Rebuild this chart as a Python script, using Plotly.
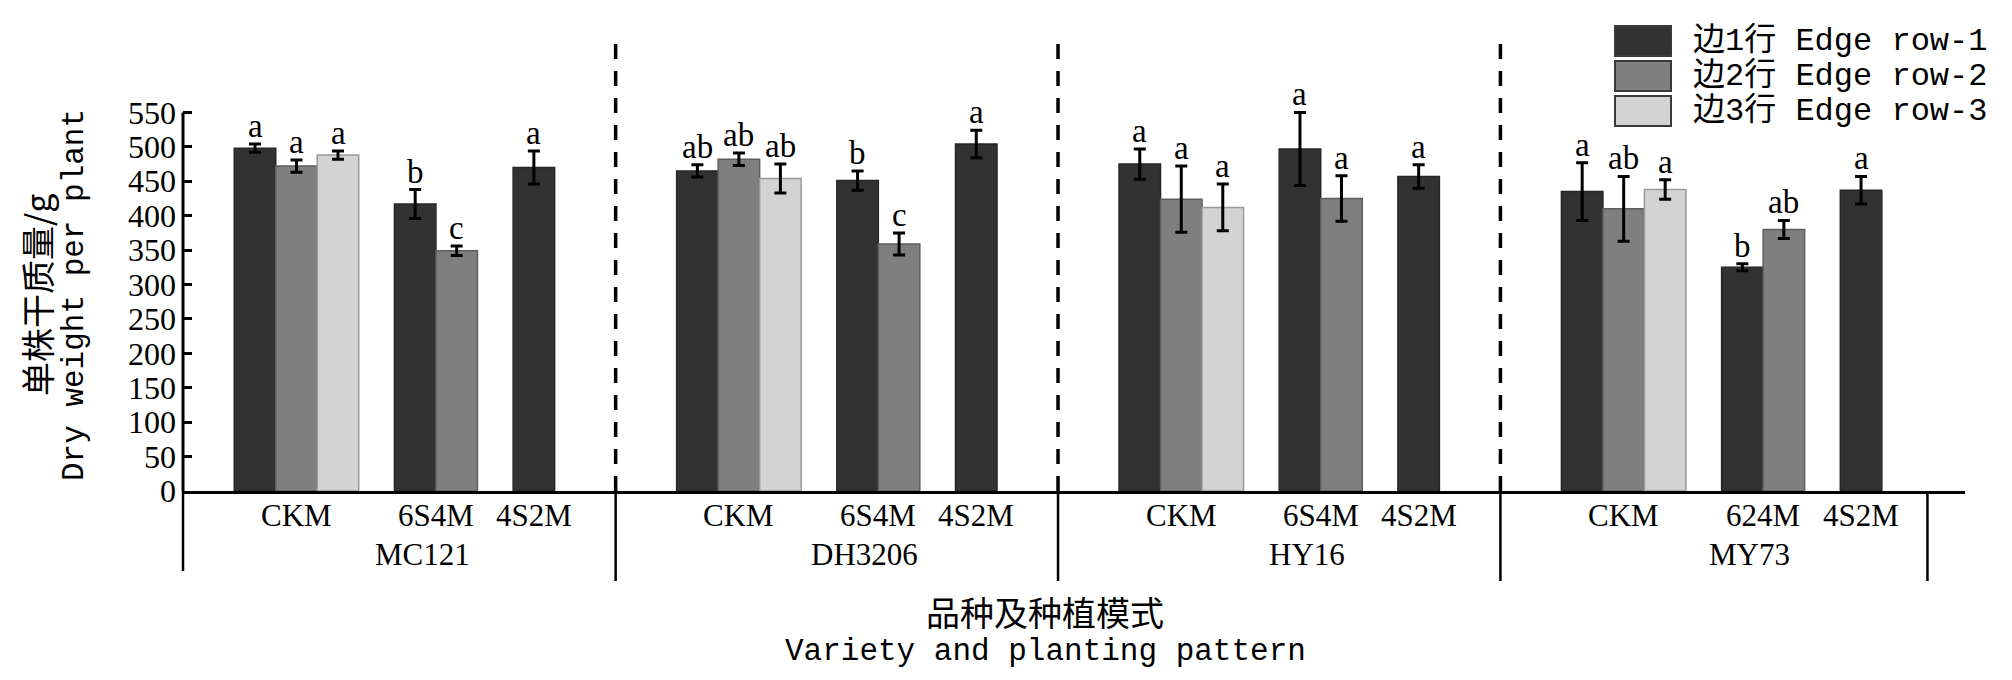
import plotly.graph_objects as go

# Varieties and planting patterns (x axis)
varieties = ["MC121", "DH3206", "HY16", "MY73"]
patterns = [
    ["CKM", "6S4M", "4S2M"],
    ["CKM", "6S4M", "4S2M"],
    ["CKM", "6S4M", "4S2M"],
    ["CKM", "624M", "4S2M"],
]
rows_per_pattern = [3, 2, 1]  # CKM has edge rows 1-3, second pattern rows 1-2, last pattern row 1

# Dry weight per plant (g), per variety: one value per pattern that has the row
row1_mean = [[498, 417, 470], [465, 451, 504], [475, 497, 457], [435, 325, 437]]
row1_err = [[6, 21, 24], [9, 14, 20], [22, 53, 17], [42, 5, 20]]
row1_sig = [["a", "b", "a"], ["ab", "b", "a"], ["a", "a", "a"], ["a", "b", "a"]]

row2_mean = [[472, 349], [482, 359], [424, 425], [410, 380]]
row2_err = [[9, 7], [9, 16], [48, 33], [47, 13]]
row2_sig = [["a", "c"], ["ab", "c"], ["a", "a"], ["ab", "ab"]]

row3_mean = [[488], [454], [412], [438]]
row3_err = [[6], [21], [34], [14]]
row3_sig = [["a"], ["ab"], ["a"], ["a"]]

series_names = ["边1行 Edge row-1", "边2行 Edge row-2", "边3行 Edge row-3"]
fill_colors = ["#323232", "#7f7f7f", "#d3d3d3"]
edge_colors = ["#262626", "#5e5e5e", "#9a9a9a"]

y_ticks = list(range(0, 551, 50))

# bar slot layout (units of one bar width)
CLUSTER_GAP = 0.86
GROUP_STEP = 10.66
pattern_start = [0, 3 + CLUSTER_GAP, 5 + 2 * CLUSTER_GAP]
group_pad = (GROUP_STEP - (6 + 2 * CLUSTER_GAP)) / 2


def slot_x(v, p, r):
    return v * GROUP_STEP + pattern_start[p] + r


SERIF = "Liberation Serif, Noto Sans CJK SC"
MONO = "Liberation Mono, Noto Sans CJK SC"

# plot area in pixels
W, H = 2012, 680
L, R, T, B = 175, 55, 70, 197
plot_w = W - L - R
plot_h = H - T - B


def py(pixel_y):
    # pixel row -> paper y
    return (H - B - pixel_y) / plot_h


def px(pixel_x):
    return (pixel_x - L) / plot_w


fig = go.Figure()

all_means = [row1_mean, row2_mean, row3_mean]
all_errs = [row1_err, row2_err, row3_err]
all_sigs = [row1_sig, row2_sig, row3_sig]

annotations = []
for r in range(3):
    xs, ys, es = [], [], []
    for v in range(len(varieties)):
        k = 0
        for p in range(3):
            if rows_per_pattern[p] > r:
                x = slot_x(v, p, r)
                y = all_means[r][v][k]
                e = all_errs[r][v][k]
                xs.append(x)
                ys.append(y)
                es.append(e)
                annotations.append(dict(
                    x=x, y=y + e, xref="x", yref="y", text=all_sigs[r][v][k],
                    showarrow=False, yanchor="bottom", yshift=-2,
                    font=dict(family=SERIF, size=33, color="black")))
                k += 1
    fig.add_trace(go.Bar(
        x=xs, y=ys, width=1.0, name=series_names[r],
        marker=dict(color=fill_colors[r], line=dict(color=edge_colors[r], width=1.5)),
        error_y=dict(type="data", array=es, color="black", thickness=3, width=6),
        showlegend=False,
        cliponaxis=False,
    ))

# pattern and variety labels under the axis
for v in range(len(varieties)):
    centers = []
    for p in range(3):
        c = v * GROUP_STEP + pattern_start[p] + (rows_per_pattern[p] - 1) / 2
        centers.append(c)
        annotations.append(dict(
            x=c, y=py(507), xref="x", yref="paper", text=patterns[v][p],
            showarrow=False, yanchor="middle",
            font=dict(family=SERIF, size=31, color="black")))
    annotations.append(dict(
        x=sum(centers) / len(centers), y=py(546), xref="x", yref="paper",
        text=varieties[v], showarrow=False, yanchor="middle",
        font=dict(family=SERIF, size=31, color="black")))

# axis titles
annotations += [
    dict(x=px(28), y=py(287), xref="paper", yref="paper", text="单株干质量/g",
         textangle=-90, showarrow=False, xanchor="center", yanchor="middle",
         font=dict(family="Noto Sans CJK SC", size=34, color="black")),
    dict(x=px(66), y=py(287), xref="paper", yref="paper", text="Dry weight per plant",
         textangle=-90, showarrow=False, xanchor="center", yanchor="middle",
         font=dict(family=MONO, size=31, color="black")),
    dict(x=px(1037), y=py(603), xref="paper", yref="paper", text="品种及种植模式",
         showarrow=False, xanchor="center", yanchor="middle",
         font=dict(family="Noto Sans CJK SC", size=34, color="black")),
    dict(x=px(1037), y=py(643), xref="paper", yref="paper", text="Variety and planting pattern",
         showarrow=False, xanchor="center", yanchor="middle",
         font=dict(family=MONO, size=31, color="black")),
]

shapes = []
# y axis line (0-550 only)
shapes.append(dict(type="line", xref="paper", yref="y", x0=0, x1=0, y0=0, y1=550,
                   line=dict(color="black", width=3)))

# dashed separators between varieties plus brackets under the axis
for v in range(1, len(varieties)):
    b = v * GROUP_STEP - 0.5 - group_pad
    shapes.append(dict(type="line", xref="x", yref="paper", x0=b, x1=b, y0=0, y1=py(28),
                       line=dict(color="black", width=3.5, dash="15px,12px")))
    shapes.append(dict(type="line", xref="x", yref="paper", x0=b, x1=b, y0=0, y1=py(573),
                       line=dict(color="black", width=2.5)))
shapes.append(dict(type="line", xref="paper", yref="paper", x0=0, x1=0, y0=0, y1=py(563),
                   line=dict(color="black", width=2.5)))
last_right = slot_x(len(varieties) - 1, 2, 0) + 0.5 + 1.1
shapes.append(dict(type="line", xref="x", yref="paper", x0=last_right, x1=last_right,
                   y0=0, y1=py(573), line=dict(color="black", width=2.5)))

# legend drawn by hand (large swatches)
legend_rows = [33, 68, 103]
for i, name in enumerate(series_names):
    yc = legend_rows[i]
    shapes.append(dict(type="rect", xref="paper", yref="paper",
                       x0=px(1607), x1=px(1663), y0=py(yc + 15), y1=py(yc - 15),
                       fillcolor=fill_colors[i], line=dict(color="#3a3a3a", width=2)))
    annotations.append(dict(x=px(1683), y=py(yc), xref="paper", yref="paper", text=name,
                            showarrow=False, xanchor="left", yanchor="middle",
                            font=dict(family=MONO, size=32, color="black")))

x_left = -0.5 - 1.235
x_right = x_left + plot_w / 41.5

fig.update_layout(
    width=W, height=H,
    margin=dict(l=L, r=R, t=T, b=B),
    plot_bgcolor="white", paper_bgcolor="white",
    barmode="overlay",
    shapes=shapes,
    annotations=annotations,
    xaxis=dict(range=[x_left, x_right], showticklabels=False, ticks="",
               showgrid=False, zeroline=False, showline=True,
               linecolor="black", linewidth=3),
    yaxis=dict(range=[0, 600], tickvals=y_ticks, ticks="inside", ticklen=9,
               tickwidth=2.5, tickcolor="black", showgrid=False, zeroline=False,
               showline=False, ticklabelstandoff=6,
               tickfont=dict(family=SERIF, size=32, color="black")),
)

fig.write_html("out.html")
